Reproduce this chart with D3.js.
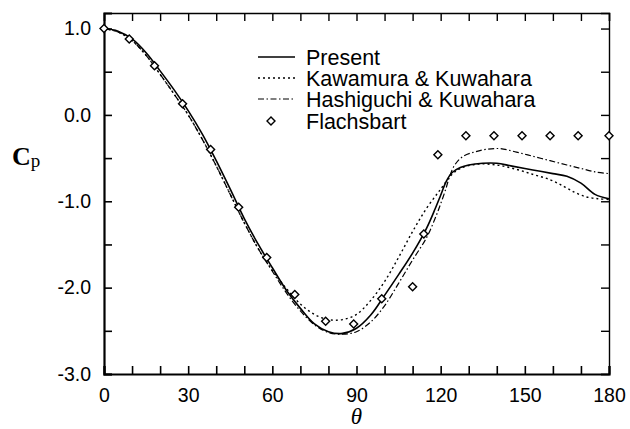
<!DOCTYPE html>
<html>
<head>
<meta charset="utf-8">
<script src="https://cdn.jsdelivr.net/npm/d3@7"></script>
<style>
  body { margin: 0; background: #fff; }
  svg { display: block; }
</style>
</head>
<body>
<div id="chart"></div>
<script>
var width = 630;
var height = 429;

// Present (solid)
var presentTheta = [0,5,10,15,20,25,30,35,40,45,50,55,60,65,70,75,80,85,90,95,100,105,110,115,118,120,122,124,127,130,135,140,145,150,155,160,165,170,175,180];
var presentCp = [1.00,0.97,0.88,0.72,0.51,0.29,0.05,-0.22,-0.53,-0.86,-1.20,-1.50,-1.77,-2.03,-2.24,-2.42,-2.51,-2.53,-2.47,-2.32,-2.09,-1.85,-1.60,-1.31,-1.09,-0.93,-0.77,-0.67,-0.61,-0.58,-0.56,-0.56,-0.59,-0.62,-0.65,-0.68,-0.71,-0.79,-0.92,-0.97];

// Kawamura & Kuwahara (dotted)
var kawaTheta = [0,5,10,15,20,25,30,35,40,45,50,55,60,65,70,75,80,85,90,95,100,105,110,115,120,124,127,133,140,147,153,159,164,168,172,176,180];
var kawaCp = [1.00,0.96,0.86,0.69,0.47,0.24,0.00,-0.28,-0.59,-0.92,-1.25,-1.55,-1.80,-2.01,-2.19,-2.31,-2.37,-2.37,-2.31,-2.15,-1.93,-1.65,-1.35,-1.08,-0.86,-0.69,-0.62,-0.57,-0.58,-0.63,-0.69,-0.75,-0.83,-0.90,-0.95,-0.97,-0.98];

// Hashiguchi & Kuwahara (dash-dot)
var hashTheta = [0,5,10,15,20,25,30,35,40,45,50,55,60,65,70,75,80,85,90,95,100,105,110,115,118,120,122,123,125,128,132,136,141,147,153,159,165,170,175,180];
var hashCp = [1.00,0.96,0.86,0.69,0.47,0.24,0.00,-0.28,-0.59,-0.92,-1.25,-1.55,-1.81,-2.06,-2.27,-2.43,-2.52,-2.54,-2.51,-2.40,-2.21,-1.95,-1.68,-1.42,-1.20,-1.03,-0.84,-0.73,-0.58,-0.48,-0.43,-0.40,-0.39,-0.43,-0.48,-0.53,-0.58,-0.62,-0.66,-0.68];

// Flachsbart (diamonds)
var flTheta = [0,9,18,28,38,48,58,68,79,89,99,110,114,119,129,139,149,159,169,180];
var flCp = [1.00,0.88,0.57,0.13,-0.40,-1.07,-1.65,-2.08,-2.39,-2.42,-2.13,-1.99,-1.38,-0.46,-0.24,-0.24,-0.24,-0.24,-0.24,-0.24];

var xTickValues = [0,10,20,30,40,50,60,70,80,90,100,110,120,130,140,150,160,170,180];
var xTickLabels = {0:"0",30:"30",60:"60",90:"90",120:"120",150:"150",180:"180"};
var yTickValues = [1.0,0.5,0.0,-0.5,-1.0,-1.5,-2.0,-2.5,-3.0];
var yTickLabels = {"1":"1.0","0":"0.0","-1":"-1.0","-2":"-2.0","-3":"-3.0"};

var legendNames = ["Present","Kawamura & Kuwahara","Hashiguchi & Kuwahara","Flachsbart"];

var svg = d3.select("#chart")
            .append("svg")
            .attr("width", width)
            .attr("height", height);

var x = d3.scaleLinear().domain([0,180]).range([104,609]);
var y = d3.scaleLinear().domain([-3,1.18]).range([374,13]);

var font = "'Liberation Sans', Arial, Helvetica, sans-serif";

// axes - ticks point inward
var xAxis = svg.append("g")
    .attr("transform", "translate(0," + y(-3) + ")")
    .call(d3.axisBottom(x).tickValues(xTickValues).tickSize(-8).tickPadding(14)
        .tickFormat(function(d) { return xTickLabels[d] || ""; }));

var xTop = svg.append("g")
    .attr("transform", "translate(0," + y(1.18) + ")")
    .call(d3.axisTop(x).tickValues(xTickValues).tickSize(-8).tickFormat(""));

var yAxis = svg.append("g")
    .attr("transform", "translate(" + x(0) + ",0)")
    .call(d3.axisLeft(y).tickValues(yTickValues).tickSize(-8).tickPadding(13)
        .tickFormat(function(d) { return yTickLabels[String(d)] || ""; }));

var yRight = svg.append("g")
    .attr("transform", "translate(" + x(180) + ",0)")
    .call(d3.axisRight(y).tickValues(yTickValues).tickSize(-8).tickFormat(""));

[xAxis, yAxis].forEach(function(a) {
    a.select(".domain").attr("stroke", "#000").attr("stroke-width", 2.2);
    a.selectAll(".tick line").attr("stroke", "#000").attr("stroke-width", 1.6);
    a.selectAll("text").attr("fill", "#000").style("font-family", font).style("font-size", "19.5px");
});
[xTop, yRight].forEach(function(a) {
    a.select(".domain").attr("stroke", "#000").attr("stroke-width", 1.4);
    a.selectAll(".tick line").attr("stroke", "#000").attr("stroke-width", 1.4);
});

// curves
var line = d3.line()
    .x(function(d) { return x(d[0]); })
    .y(function(d) { return y(d[1]); })
    .curve(d3.curveCatmullRom.alpha(0.5));

var series = [
    {t: presentTheta, v: presentCp, dash: null, w: 1.6},
    {t: kawaTheta, v: kawaCp, dash: "2,3", w: 1.4},
    {t: hashTheta, v: hashCp, dash: "6,2.5,1.5,2.5", w: 1.2}
];

series.forEach(function(s) {
    svg.append("path")
        .datum(d3.zip(s.t, s.v))
        .attr("fill", "none")
        .attr("stroke", "#000")
        .attr("stroke-width", s.w)
        .attr("stroke-dasharray", s.dash)
        .attr("d", line);
});

var diamond = d3.symbol().type(d3.symbolSquare).size(32);

svg.append("g").selectAll("path")
    .data(d3.zip(flTheta, flCp))
    .enter()
    .append("path")
    .attr("d", diamond)
    .attr("transform", function(d) { return "translate(" + x(d[0]) + "," + y(d[1]) + ") rotate(45)"; })
    .attr("fill", "#fff")
    .attr("stroke", "#000")
    .attr("stroke-width", 1.4);

// legend
var lg = svg.append("g");
var rowY = [57, 78, 99, 121];
series.forEach(function(s, i) {
    lg.append("line")
        .attr("x1", 258).attr("x2", 295)
        .attr("y1", rowY[i]).attr("y2", rowY[i])
        .attr("stroke", "#000")
        .attr("stroke-width", s.w)
        .attr("stroke-dasharray", s.dash);
});
lg.append("path")
    .attr("d", diamond)
    .attr("transform", "translate(271," + rowY[3] + ") rotate(45)")
    .attr("fill", "#fff")
    .attr("stroke", "#000")
    .attr("stroke-width", 1.4);

lg.selectAll("text")
    .data(legendNames)
    .enter()
    .append("text")
    .attr("x", 306)
    .attr("y", function(d, i) { return rowY[i] + 7.5; })
    .style("font-family", font)
    .style("font-size", "21.5px")
    .text(function(d) { return d; });

// axis titles
var cp = svg.append("text")
    .attr("x", 12)
    .attr("y", 165)
    .style("font-family", "'Liberation Serif', 'Times New Roman', serif")
    .style("font-weight", "bold")
    .style("font-size", "26px");
cp.append("tspan").text("C");
cp.append("tspan").attr("dy", 2).style("font-size", "19px").style("font-weight", "normal").text("p");

svg.append("text")
    .attr("x", x(90))
    .attr("y", 424)
    .attr("text-anchor", "middle")
    .style("font-family", "'Liberation Serif', 'Times New Roman', serif")
    .style("font-style", "italic")
    .style("font-size", "23px")
    .text("\u03b8");
</script>
</body>
</html>
